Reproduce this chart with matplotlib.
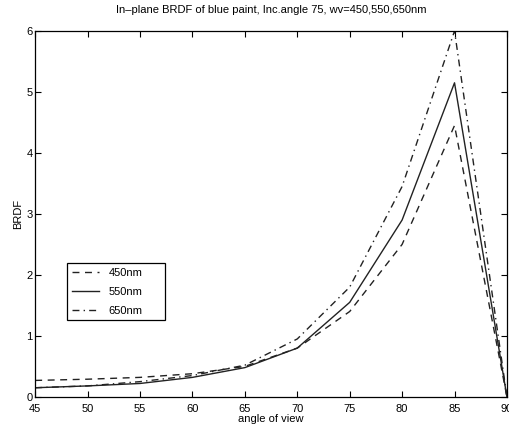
import matplotlib
matplotlib.use("Agg")
import matplotlib.pyplot as plt

plt.rcParams['font.family'] = ['Liberation Sans', 'DejaVu Sans']

angles = [45, 50, 55, 60, 65, 70, 75, 80, 85, 90]
brdf_450 = [0.27, 0.29, 0.32, 0.38, 0.50, 0.80, 1.40, 2.50, 4.45, 0.0]
brdf_550 = [0.15, 0.18, 0.22, 0.32, 0.48, 0.80, 1.55, 2.90, 5.15, 0.0]
brdf_650 = [0.15, 0.18, 0.25, 0.35, 0.52, 0.95, 1.80, 3.45, 6.00, 0.0]

fig = plt.figure(figsize=(5.1, 4.3), dpi=100)
ax = fig.add_axes([0.069, 0.077, 0.925, 0.851])

ax.plot(angles, brdf_450, color='#222222', lw=1.0, linestyle=(0, (5, 4)), label='450nm')
ax.plot(angles, brdf_550, color='#222222', lw=1.0, linestyle='-', label='550nm')
ax.plot(angles, brdf_650, color='#222222', lw=1.0, linestyle=(0, (5, 3, 1, 3)), label='650nm')

ax.set_xlim(45, 90)
ax.set_ylim(0, 6)
ax.set_xticks(range(45, 91, 5))
ax.set_yticks(range(0, 7))
ax.tick_params(direction='in', top=True, right=True, labelsize=8, length=4)
ax.tick_params(axis='x', pad=5)
ax.tick_params(axis='y', pad=2)
for s in ax.spines.values():
    s.set_linewidth(0.9)

ax.set_title('In\u2013plane BRDF of blue paint, Inc.angle 75, wv=450,550,650nm', fontsize=8, pad=13)
ax.set_xlabel('angle of view', fontsize=8, labelpad=0)
ax.set_ylabel('BRDF', fontsize=8, labelpad=2)

leg = ax.legend(loc='lower left', bbox_to_anchor=(0.068, 0.21, 0.207, 0.156), mode='expand',
                fontsize=8, fancybox=False, framealpha=1, edgecolor='black',
                handlelength=2.5, borderaxespad=0, labelspacing=0.8)
leg.get_frame().set_linewidth(0.9)

fig.savefig('out.png', dpi=100)
